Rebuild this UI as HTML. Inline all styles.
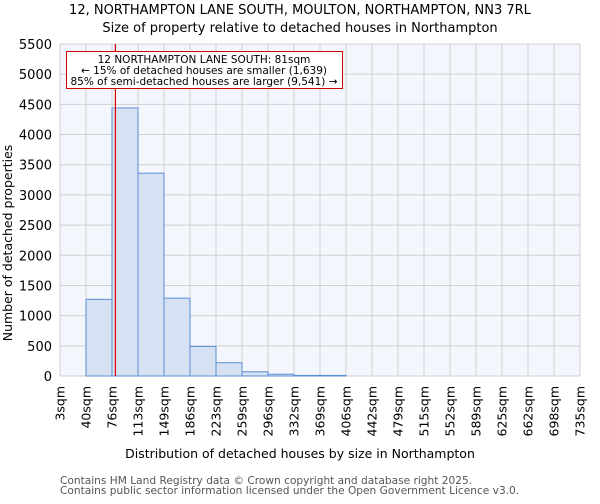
<!DOCTYPE html>
<html><head><meta charset="utf-8"><style>
body{margin:0;background:#fff;font-family:"DejaVu Sans","Liberation Sans",sans-serif}
svg text{font-family:"DejaVu Sans","Liberation Sans",sans-serif}
</style></head><body>
<svg id="chart" width="600" height="500" xmlns="http://www.w3.org/2000/svg">
<text x="300" y="14" text-anchor="middle" font-size="13" fill="#000">12, NORTHAMPTON LANE SOUTH, MOULTON, NORTHAMPTON, NN3 7RL</text>
<text x="300" y="32" text-anchor="middle" font-size="13" fill="#000">Size of property relative to detached houses in Northampton</text>
<rect x="60" y="44" width="520" height="332" fill="#f3f6fc"/>
<g id="grid"></g><g id="bars"></g><g id="yticks"></g><g id="xticks"></g>
<line id="marker" y1="44" y2="376" stroke="#dd0000" stroke-width="1.2"/>
<g>
<rect x="66.5" y="51.5" width="276" height="37" fill="#fff" stroke="#cc0000" stroke-width="1"/>
<text x="204" y="63" text-anchor="middle" font-size="10.5">12 NORTHAMPTON LANE SOUTH: 81sqm</text>
<text x="204" y="74" text-anchor="middle" font-size="10.5">← 15% of detached houses are smaller (1,639)</text>
<text x="204" y="85" text-anchor="middle" font-size="10.5">85% of semi-detached houses are larger (9,541) →</text>
</g>
<text x="12" y="243" text-anchor="middle" font-size="12.5" transform="rotate(-90 12 243)">Number of detached properties</text>
<text x="300" y="458" text-anchor="middle" font-size="12.5">Distribution of detached houses by size in Northampton</text>
<text x="60" y="484" font-size="10.6" fill="#555">Contains HM Land Registry data © Crown copyright and database right 2025.</text>
<text x="60" y="494" font-size="10.6" fill="#555">Contains public sector information licensed under the Open Government Licence v3.0.</text>
</svg>
<script>
const binLabels=["3sqm","40sqm","76sqm","113sqm","149sqm","186sqm","223sqm","259sqm","296sqm","332sqm","369sqm","406sqm","442sqm","479sqm","515sqm","552sqm","589sqm","625sqm","662sqm","698sqm","735sqm"];
const counts=[0,1270,4440,3360,1290,490,220,70,30,10,10,0,0,0,0,0,0,0,0,0];
const yTicks=[0,500,1000,1500,2000,2500,3000,3500,4000,4500,5000,5500];
const markerSqm=81;
const NS="http://www.w3.org/2000/svg";
const X0=60,X1=580,Y0=376,Y1=44,YMAX=5500,SMIN=3,SMAX=735;
const nb=binLabels.length-1,bw=(X1-X0)/nb;
const xb=i=>X0+i*bw;
const y=v=>Y0-(v/YMAX)*(Y0-Y1);
const xs=s=>X0+(s-SMIN)/(SMAX-SMIN)*(X1-X0);
function mk(t,a,p){const e=document.createElementNS(NS,t);for(const k in a)e.setAttribute(k,a[k]);p.appendChild(e);return e;}
const grid=document.getElementById('grid'),bars=document.getElementById('bars'),yt=document.getElementById('yticks'),xt=document.getElementById('xticks');
yTicks.forEach(v=>{
 const l=mk('line',{x1:X0,x2:X1,y1:y(v),y2:y(v),stroke:'#d0d0d0','stroke-width':1},grid);
 
 
 const t=mk('text',{x:52,y:y(v)+5,'text-anchor':'end','font-size':13},yt);
 t.textContent=v;
 
 
});
binLabels.forEach((lab,i)=>{
 const x=xb(i);
 const l=mk('line',{x1:x,x2:x,y1:Y1,y2:Y0,stroke:'#d0d0d0','stroke-width':1},grid);
 
 
 const t=mk('text',{x:0,y:0,'text-anchor':'end','font-size':12.5,transform:`translate(${x+4.5},386) rotate(-90)`},xt);
 t.textContent=lab;
 
 
});
counts.forEach((c,i)=>{
 if(c<=0)return;
 const r=mk('rect',{x:xb(i),y:y(c),width:bw,height:Y0-y(c),fill:'#d6e1f3',stroke:'#5b8fd6','stroke-width':1},bars);
 
 
});
const m=document.getElementById('marker');m.setAttribute('x1',xs(markerSqm));m.setAttribute('x2',xs(markerSqm));
</script>
</body></html>
